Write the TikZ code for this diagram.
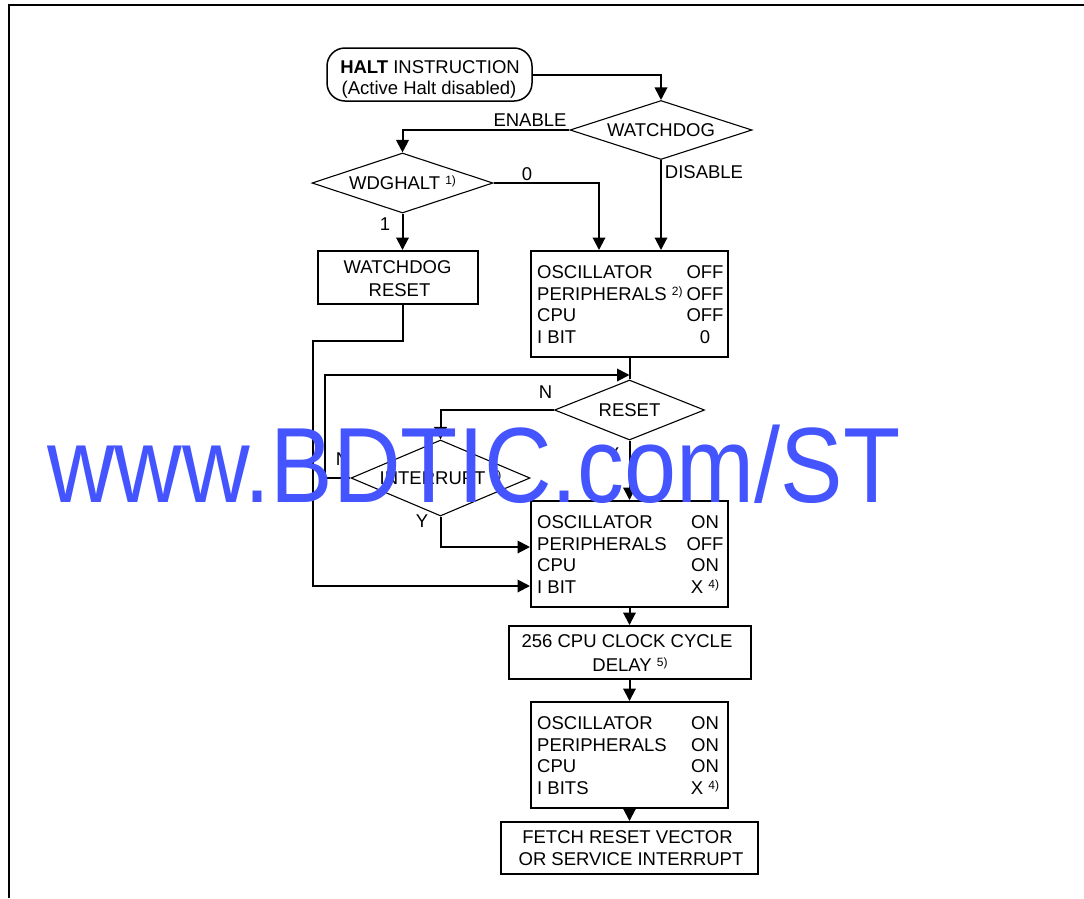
\documentclass[tikz,border=0pt]{standalone}
\usepackage{graphicx}
\usepackage{fontspec}
\setmainfont{Liberation Sans}
\usetikzlibrary{arrows.meta,shapes.geometric}
\definecolor{wmblue}{RGB}{68,85,255}
\newcommand{\fs}{\fontsize{18.5}{21}\selectfont}
\newcommand{\sups}[1]{\raisebox{5pt}{\fontsize{12}{12}\selectfont #1}}
\begin{document}
\begin{tikzpicture}[x=1pt,y=-1pt,
  every node/.style={inner sep=0pt,font=\fs},
  conn/.style={line width=2pt},
  arr/.style={conn,-{Triangle[length=12.5pt,width=12.5pt]}},
  boxn/.style={draw,line width=2pt,rectangle},
  term/.style={draw,line width=1.5pt,rectangle,rounded corners=18pt},
  dia/.style={draw,line width=1.1pt,diamond,text height=13pt,text depth=0pt},
  lbl/.style={anchor=base},
  lft/.style={anchor=base west},
]
\useasboundingbox (0,0) rectangle (1084,898);
% frame
\draw[line width=2pt] (9,898) -- (9,5) -- (1084,5);

% shapes
\node[term,minimum width=205pt,minimum height=53pt] (halt) at (429.5,74.5) {};
\node[dia,minimum width=182pt,minimum height=59pt,aspect=3.08] (wd) at (661,130) {WATCHDOG};
\node[dia,minimum width=181pt,minimum height=60pt,aspect=3] (wdg) at (402.5,183) {WDGHALT \sups{1)}};
\node[boxn,minimum width=160pt,minimum height=53pt] (wdr) at (398,277.5) {};
\node[boxn,minimum width=197pt,minimum height=106pt] (off) at (629.5,304) {};
\node[dia,minimum width=150pt,minimum height=60pt,aspect=2.5] (reset) at (629.5,410) {RESET};
\node[dia,minimum width=179pt,minimum height=76pt,aspect=2.36] (intr) at (440.5,478) {INTERRUPT \sups{3)}};
\node[boxn,minimum width=197pt,minimum height=106pt] (on) at (629.5,554) {};
\node[boxn,minimum width=242pt,minimum height=53pt] (delay) at (629.5,652.5) {};
\node[boxn,minimum width=197pt,minimum height=106pt] (bits) at (629.5,755) {};
\node[boxn,minimum width=257pt,minimum height=52pt] (fetch) at (629.5,848) {};

% texts in boxes
\node[lbl] (halt1) at (430,73.5) {\textbf{HALT} INSTRUCTION};
\node[lbl] (halt2) at (429,94) {(Active Halt disabled)};
\node[lbl] (wdr1) at (397.5,273) {WATCHDOG};
\node[lbl] (wdr2) at (399.5,296) {RESET};

\node[lft] (off1) at (537,278) {OSCILLATOR};
\node[lft] (off2) at (537,300) {PERIPHERALS \sups{2)}};
\node[lft] (off3) at (537,321.5) {CPU};
\node[lft] (off4) at (537,343) {I BIT};
\node[lbl] (off1v) at (705,278) {OFF};
\node[lbl] (off2v) at (705,300) {OFF};
\node[lbl] (off3v) at (705,321.5) {OFF};
\node[lbl] (off4v) at (705,343) {0};

\node[lft] (on1) at (537,528) {OSCILLATOR};
\node[lft] (on2) at (537,550) {PERIPHERALS};
\node[lft] (on3) at (537,571.5) {CPU};
\node[lft] (on4) at (537,593) {I BIT};
\node[lbl] (on1v) at (705,528) {ON};
\node[lbl] (on2v) at (705,550) {OFF};
\node[lbl] (on3v) at (705,571.5) {ON};
\node[lbl] (on4v) at (705,593) {X \sups{4)}};

\node[lbl] (dl1) at (627,647) {256 CPU CLOCK CYCLE};
\node[lbl] (dl2) at (630,671) {DELAY \sups{5)}};

\node[lft] (bt1) at (537,729) {OSCILLATOR};
\node[lft] (bt2) at (537,751) {PERIPHERALS};
\node[lft] (bt3) at (537,772.5) {CPU};
\node[lft] (bt4) at (537,794) {I BITS};
\node[lbl] (bt1v) at (705,729) {ON};
\node[lbl] (bt2v) at (705,751) {ON};
\node[lbl] (bt3v) at (705,772.5) {ON};
\node[lbl] (bt4v) at (705,794) {X \sups{4)}};

\node[lbl] (ft1) at (627.5,843) {FETCH RESET VECTOR};
\node[lbl] (ft2) at (631,865) {OR SERVICE INTERRUPT};

% connector labels
\node[lbl] (lenable) at (530,126) {ENABLE};
\node[lbl] (ldisable) at (704,178) {DISABLE};
\node[lbl] (lzero) at (527,180) {0};
\node[lbl] (lone) at (385,230) {1};
\node[lbl] (lrn) at (545.5,398) {N};
\node[lbl] (lin) at (342.5,465) {N};
\node[lbl] (lry) at (613,460) {Y};
\node[lbl] (liy) at (422,527) {Y};

% connectors
\draw[arr] (halt.east) -| (wd.north);
\draw[arr] (wd.west) -| (wdg.north);
\draw[arr] (wdg.east) -| ([xshift=-30.5pt]off.north);
\draw[arr] (wd.south) -- (wd.south |- off.north);
\draw[arr] (wdg.south) -- (wdg.south |- wdr.north);
\draw[conn] (off.south) -- (reset.north);
\path (off.south) ++(0,17) coordinate (j1);
\draw[arr] (intr.west) -- ++(-25,0) |- (j1);
\draw[arr] (reset.west) -| (intr.north);
\draw[arr] (reset.south) -- (on.north);
\draw[arr] (intr.south) |- ([yshift=7pt]on.west);
\draw[arr] (wdg.south |- wdr.south) -- ++(0,36) -- ++(-90,0) |- ([yshift=-32pt]on.west);
\draw[arr] (on.south) -- (delay.north);
\draw[arr] (delay.south) -- (bits.north);
\draw[arr] (bits.south) -- (fetch.north);

% watermark
\node[anchor=base west,text=wmblue,font=\fontsize{107}{107}\selectfont] (wm) at (47,502) {\scalebox{0.875}[1]{www.BDTIC.com/ST}};
\end{tikzpicture}
\end{document}
